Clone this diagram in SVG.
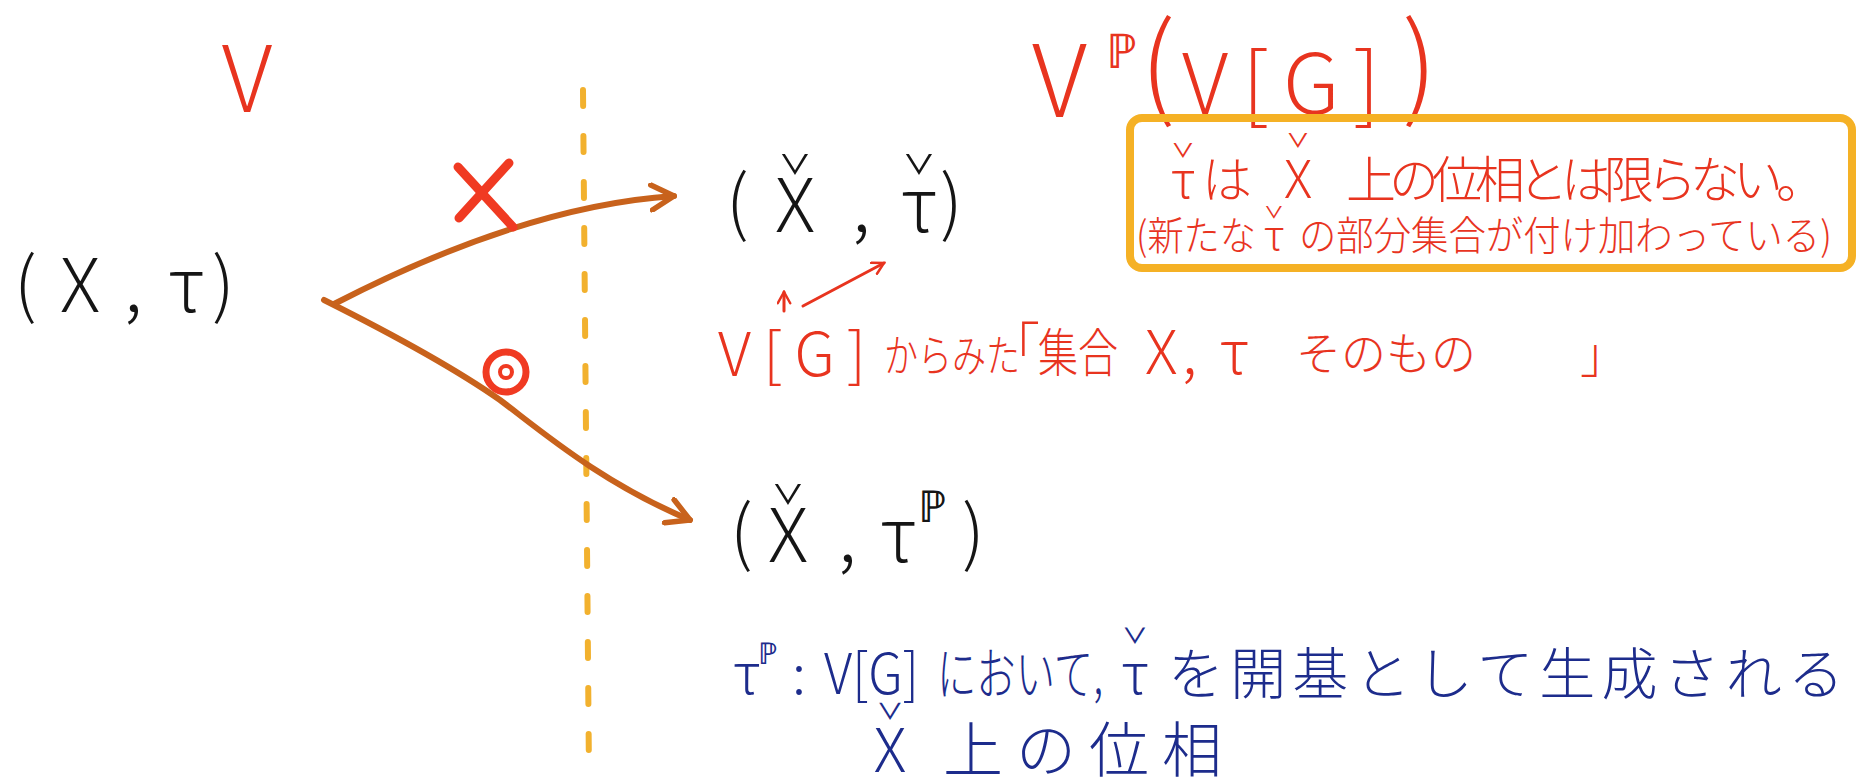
<svg xmlns="http://www.w3.org/2000/svg" width="1860" height="783" viewBox="0 0 1860 783">
<style>
text{font-family:"Noto Sans CJK JP","Liberation Sans",sans-serif;font-weight:300}
.red{fill:#e8341f}
.blk{fill:#151515}
.blu{fill:#1d2c8c}
.cv{text-anchor:middle}
.arw{fill:none;stroke:#c8621c;stroke-width:6;stroke-linecap:round}
.rl{fill:none;stroke:#e8341f;stroke-width:3;stroke-linecap:round}
</style>
<defs>
<marker id="ah" viewBox="0 0 12 12" refX="10" refY="6" markerWidth="5" markerHeight="5" orient="auto" markerUnits="strokeWidth">
<path d="M1,1 L10,6 L1,11" fill="none" stroke="#c8621c" stroke-width="2.2" stroke-linecap="round" stroke-linejoin="round"/>
</marker>
<marker id="rh" viewBox="0 0 12 12" refX="10" refY="6" markerWidth="5" markerHeight="5" orient="auto" markerUnits="strokeWidth">
<path d="M1,1 L10,6 L1,11" fill="none" stroke="#e8341f" stroke-width="2" stroke-linecap="round"/>
</marker>
</defs>
<rect width="1860" height="783" fill="#ffffff"/>

<g id="divider">
<line x1="583" y1="90" x2="589" y2="775" stroke="#f2b12e" stroke-width="6" stroke-dasharray="16 30" stroke-linecap="round"/>
</g>

<g id="label-V">
<text class="red" x="247" y="112" font-size="92" font-weight="200" text-anchor="middle">V</text>
</g>

<g id="node-X-tau">
<text class="blk" x="14" y="310" font-size="72" font-weight="200">(</text>
<text class="blk" x="60" y="312" font-size="74" font-weight="200">X</text>
<text class="blk" x="124" y="312" font-size="74" font-weight="200">,</text>
<text class="blk" x="168" y="312" font-size="74" font-weight="200">τ</text>
<text class="blk" x="212" y="310" font-size="72" font-weight="200">)</text>
</g>

<g id="connectors">
<path class="arw" d="M334,304 Q524,206 674,196" marker-end="url(#ah)"/>
<path class="arw" d="M324,300 C380,328 450,365 500,400 C540,430 600,482 690,520" marker-end="url(#ah)"/>
<line class="rl" x1="784" y1="311" x2="784" y2="292" marker-end="url(#rh)"/>
<line class="rl" x1="803" y1="306" x2="884" y2="263" marker-end="url(#rh)"/>
</g>

<g id="mark-cross">
<line x1="458" y1="167" x2="513" y2="227" stroke="#f03a22" stroke-width="9" stroke-linecap="round"/>
<line x1="509" y1="163" x2="459" y2="218" stroke="#f03a22" stroke-width="9" stroke-linecap="round"/>
</g>

<g id="mark-double-circle">
<circle cx="506" cy="372" r="20" fill="none" stroke="#f03a22" stroke-width="7"/>
<circle cx="506" cy="372" r="6" fill="none" stroke="#f03a22" stroke-width="4"/>
</g>

<g id="node-Xcheck-taucheck">
<text class="blk" x="726" y="228" font-size="72" font-weight="200">(</text>
<text class="blk cv" x="795" y="232" font-size="74" font-weight="200">X</text>
<text class="blk cv" x="795" y="200" font-size="56">ˇ</text>
<text class="blk" x="852" y="232" font-size="74" font-weight="200">,</text>
<text class="blk cv" x="919" y="232" font-size="74" font-weight="200">τ</text>
<text class="blk cv" x="919" y="200" font-size="56">ˇ</text>
<text class="blk" x="940" y="228" font-size="72" font-weight="200">)</text>
</g>

<g id="label-VG">
<text class="red" x="1032" y="117" font-size="100" font-weight="200">V</text>
<text class="red" x="1106" y="68" font-size="48">ℙ</text>
<text class="red" x="1140" y="106" font-size="112" font-weight="200">(</text>
<text class="red" x="1182" y="114" font-size="84" font-weight="200" textLength="198" lengthAdjust="spacing">V[G]</text>
<text class="red" x="1402" y="106" font-size="112" font-weight="200">)</text>
</g>

<g id="note-box">
<rect x="1130" y="118" width="722" height="150" rx="12" fill="none" stroke="#f5b125" stroke-width="8"/>
<text class="red cv" x="1183" y="198" font-size="50">τ</text>
<text class="red cv" x="1183" y="176" font-size="40">ˇ</text>
<text class="red" x="1202" y="198" font-size="50">は</text>
<text class="red cv" x="1298" y="198" font-size="52">X</text>
<text class="red cv" x="1298" y="166" font-size="40">ˇ</text>
<text class="red" x="1346" y="198" font-size="50" textLength="480" lengthAdjust="spacing">上の位相とは限らない。</text>
<text class="red" x="1136" y="250" font-size="40" textLength="120" lengthAdjust="spacingAndGlyphs">(新たな</text>
<text class="red cv" x="1274" y="250" font-size="42">τ</text>
<text class="red cv" x="1274" y="234" font-size="34">ˇ</text>
<text class="red" x="1299" y="250" font-size="40" textLength="533" lengthAdjust="spacingAndGlyphs">の部分集合が付け加わっている)</text>
</g>

<g id="note-view">
<text class="red" x="718" y="376" font-size="60" textLength="148" lengthAdjust="spacing">V[G]</text>
<text class="red" x="884" y="372" font-size="44" textLength="136" lengthAdjust="spacingAndGlyphs">からみた</text>
<text class="red" x="988" y="366" font-size="52">「</text>
<text class="red" x="1038" y="372" font-size="52" textLength="80" lengthAdjust="spacingAndGlyphs">集合</text>
<text class="red" x="1145" y="374" font-size="60" textLength="104" lengthAdjust="spacing">X, τ</text>
<text class="red" x="1296" y="370" font-size="46" textLength="180" lengthAdjust="spacingAndGlyphs">そのもの</text>
<text class="red" x="1580" y="372" font-size="48">」</text>
</g>

<g id="node-Xcheck-tauP">
<text class="blk" x="730" y="558" font-size="72" font-weight="200">(</text>
<text class="blk cv" x="788" y="562" font-size="74" font-weight="200">X</text>
<text class="blk cv" x="788" y="530" font-size="56">ˇ</text>
<text class="blk" x="838" y="562" font-size="74" font-weight="200">,</text>
<text class="blk" x="880" y="562" font-size="74" font-weight="200">τ</text>
<text class="blk" x="918" y="522" font-size="44">ℙ</text>
<text class="blk" x="962" y="558" font-size="72" font-weight="200">)</text>
</g>

<g id="note-tauP">
<text class="blu" x="733" y="694" font-size="56">τ</text>
<text class="blu" x="758" y="664" font-size="30">ℙ</text>
<text class="blu" x="792" y="694" font-size="56">:</text>
<text class="blu" x="824" y="694" font-size="56" textLength="95" lengthAdjust="spacingAndGlyphs">V[G]</text>
<text class="blu" x="937" y="694" font-size="56" textLength="166" lengthAdjust="spacingAndGlyphs">において,</text>
<text class="blu cv" x="1135" y="694" font-size="56">τ</text>
<text class="blu cv" x="1135" y="664" font-size="44">ˇ</text>
<text class="blu" x="1168" y="694" font-size="56" textLength="676" lengthAdjust="spacing">を開基として生成される</text>
<text class="blu cv" x="890" y="772" font-size="60">X</text>
<text class="blu cv" x="890" y="740" font-size="46">ˇ</text>
<text class="blu" x="943" y="772" font-size="60" textLength="279" lengthAdjust="spacing">上の位相</text>
</g>
</svg>
